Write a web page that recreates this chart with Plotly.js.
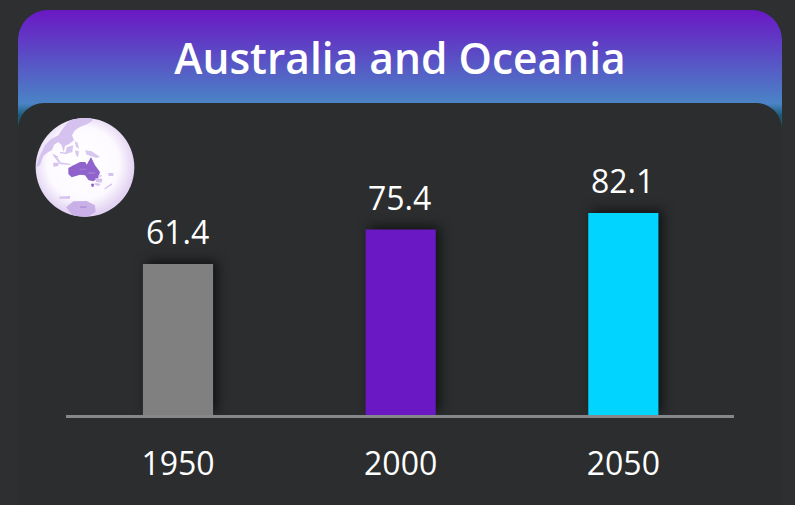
<!DOCTYPE html>
<html><head><meta charset="utf-8">
<script src="https://cdn.plot.ly/plotly-3.0.1.min.js"></script>
<style>
html,body{margin:0;padding:0;background:#2d2f30;width:795px;height:505px;overflow:hidden}
#head{position:absolute;left:18px;top:10px;width:764px;height:170px;border-radius:30px 30px 0 0;
background:linear-gradient(180deg,#6a18c4 0%,#4a84c6 55%,#1d5a78 62%,#1a4a5c 100%)}
#panel{position:absolute;left:18px;top:103px;width:764px;height:402px;border-radius:26px 26px 0 0;background:#2b2d2e}
#globe{position:absolute;left:30px;top:112px;width:110px;height:110px}
#chart{position:absolute;left:0;top:0;width:795px;height:505px}
.bars .point path{filter:drop-shadow(4px -3px 6px rgba(0,0,0,.6))}
</style></head><body>
<div id="head"></div><div id="panel"></div>
<svg id="globe" viewBox="0 0 330 330">
<defs>
<radialGradient id="g" cx="48%" cy="46%" r="52%"><stop offset="0" stop-color="#fff"/><stop offset=".7" stop-color="#fdfaff"/><stop offset="1" stop-color="#e2d3f2"/></radialGradient>
<clipPath id="c"><circle cx="165" cy="166" r="148"/></clipPath>
<filter id="b" x="-10%" y="-10%" width="120%" height="120%"><feGaussianBlur stdDeviation="1.8"/></filter>
</defs>
<circle cx="165" cy="166" r="148" fill="url(#g)"/>
<g clip-path="url(#c)" filter="url(#b)">
<path d="M18 165L30 130L45 100L62 82L85 70L95 55L110 35L130 18L180 15L188 26L172 36L150 45L135 55L126 70L132 85L118 95L105 102L101 120L95 100L85 90L72 98L66 114L55 120L40 132L30 160Z" fill="#d5c2ee"/>
<path d="M110 106L130 100L127 120L106 126ZM66 125L76 128L92 150L84 150ZM85 150L120 155L120 159L85 156ZM134 88L143 92L147 112L138 104ZM135 115L147 118L144 136L138 130ZM165 115L185 118L210 134L200 138L170 128ZM125 160L135 158L135 162L125 163Z" fill="#d8c8ef"/>
<path d="M115 168L138 156L150 150L166 150L170 158L183 135L195 160L210 180L205 198L190 208L176 205L165 190L150 188L125 196L115 186Z" fill="#9062cc"/>
<path d="M183 215L193 215L190 225L185 224Z" fill="#9062cc"/>
<path d="M108 286L130 268L170 267L195 280L197 300L170 316L130 313Z" fill="#c9b1e7"/>
<path d="M88 254L120 252L120 260L88 260ZM70 152L85 152L85 162L70 164ZM196 198L218 200L214 212L198 210ZM195 212L212 216L206 222L196 220ZM222 230L245 214L246 218L226 232ZM234 183L250 183L250 192L236 192ZM204 190L216 190L214 194L204 194ZM72 132L84 132L84 136L72 136ZM90 120L112 122L112 126L90 124Z" fill="#d4c1ec"/>
<path d="M148 170L170 170L168 174L148 174ZM175 180L196 180L194 186L176 186ZM150 282L170 282L170 288L150 288Z" fill="#a988d6" opacity=".6"/>
</g>
</svg>
<div id="chart"></div>
<script>
const categories = ['1950','2000','2050'];
const values = [61.4,75.4,82.1];
const labels = ['61.4','75.4','82.1'];
const colors = ['#808080','#6a18c4','#00d4ff'];
const titleText = 'Australia and Oceania';
Plotly.newPlot('chart',[{type:'bar',x:categories,y:values,marker:{color:colors,line:{width:0}},width:0.315,hoverinfo:'skip'}],
{width:795,height:505,paper_bgcolor:'rgba(0,0,0,0)',plot_bgcolor:'rgba(0,0,0,0)',showlegend:false,
 margin:{l:66,r:61,t:170,b:90},
 title:{text:titleText,font:{family:'"Open Sans"',size:42.5,color:'#fff',weight:600},x:0.5,xanchor:'center',xref:'paper',y:0.882,yanchor:'middle'},
 font:{family:'"Open Sans"'},
 annotations:categories.map((c,i)=>({xref:'x',yref:'y',x:i,y:values[i],text:labels[i],showarrow:false,yanchor:'bottom',yshift:9,xshift:-1,
   font:{family:'"Open Sans"',size:32,color:'#fff'}})),
 xaxis:{type:'category',range:[-0.503,2.497],showline:true,linecolor:'#85888a',linewidth:2.5,ticks:'',showgrid:false,zeroline:false,
  tickfont:{family:'"Open Sans"',size:32,color:'#fff'},ticklabelstandoff:19,fixedrange:true},
 yaxis:{range:[0,99.6],visible:false,fixedrange:true}
},{displayModeBar:false,staticPlot:true});
</script></body></html>
